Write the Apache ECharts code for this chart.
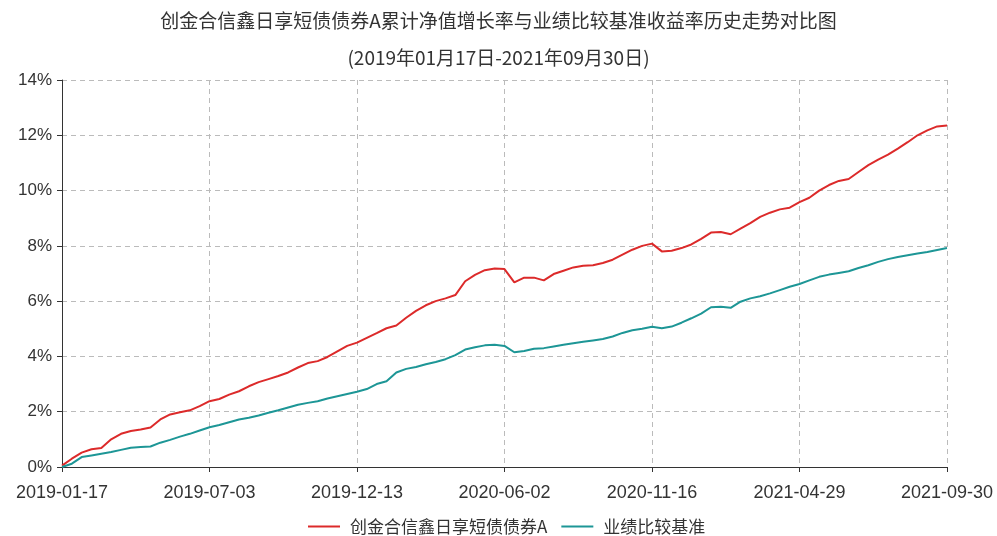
<!DOCTYPE html>
<html>
<head>
<meta charset="utf-8">
<script src="https://cdn.jsdelivr.net/npm/echarts@6/dist/echarts.min.js"></script>
<style>
  html, body { margin: 0; padding: 0; background: #fff; }
  #chart { width: 997px; height: 536px; }
</style>
</head>
<body>
<div id="chart"></div>
<script>
const dates = [
  '2019-01-17', '2019-01-28', '2019-02-08', '2019-02-19', '2019-03-01', '2019-03-12', '2019-03-22', '2019-04-02',
  '2019-04-12', '2019-04-23', '2019-05-06', '2019-05-16', '2019-05-27', '2019-06-06', '2019-06-21',
  '2019-07-03', '2019-07-15', '2019-07-25', '2019-08-05', '2019-08-15', '2019-08-26', '2019-09-05', '2019-09-16',
  '2019-09-26', '2019-10-10', '2019-10-21', '2019-10-31', '2019-11-11', '2019-11-21', '2019-12-03',
  '2019-12-13', '2019-12-24', '2020-01-06', '2020-01-16', '2020-02-05', '2020-02-14', '2020-02-25', '2020-03-06',
  '2020-03-17', '2020-03-27', '2020-04-08', '2020-04-20', '2020-04-30', '2020-05-13', '2020-05-22',
  '2020-06-02', '2020-06-12', '2020-06-23', '2020-07-06', '2020-07-16', '2020-07-27', '2020-08-06', '2020-08-17',
  '2020-08-27', '2020-09-08', '2020-09-18', '2020-09-30', '2020-10-19', '2020-10-28', '2020-11-06',
  '2020-11-16', '2020-11-26', '2020-12-07', '2020-12-17', '2020-12-28', '2021-01-08', '2021-01-19', '2021-01-29',
  '2021-02-09', '2021-02-24', '2021-03-05', '2021-03-16', '2021-03-26', '2021-04-08', '2021-04-19',
  '2021-04-29', '2021-05-12', '2021-05-21', '2021-06-01', '2021-06-10', '2021-06-22', '2021-07-01', '2021-07-12',
  '2021-07-21', '2021-07-30', '2021-08-10', '2021-08-19', '2021-08-30', '2021-09-08', '2021-09-17',
  '2021-09-30'
]

// 创金合信鑫日享短债债券A 累计净值增长率 (%)
const fundValues = [
  0.05, 0.30, 0.52, 0.64, 0.69, 1.00, 1.20, 1.30, 1.36, 1.43, 1.72, 1.90, 1.98, 2.05, 2.20,
  2.38, 2.46, 2.62, 2.74, 2.92, 3.07, 3.18, 3.29, 3.42, 3.60, 3.76, 3.83, 3.98, 4.18, 4.38,
  4.50, 4.67, 4.84, 5.02, 5.12, 5.40, 5.65, 5.85, 6.00, 6.10, 6.22, 6.72, 6.95, 7.12, 7.18,
  7.16, 6.68, 6.85, 6.85, 6.75, 6.98, 7.10, 7.22, 7.28, 7.30, 7.38, 7.50, 7.68, 7.86, 8.00,
  8.08, 7.80, 7.82, 7.92, 8.05, 8.25, 8.48, 8.50, 8.42, 8.62, 8.82, 9.05, 9.20, 9.32, 9.38,
  9.58, 9.74, 10.00, 10.20, 10.35, 10.42, 10.67, 10.92, 11.12, 11.30, 11.52, 11.75, 12.00, 12.18, 12.32,
  12.35
]

// 业绩比较基准收益率 (%)
const benchValues = [
  0.00, 0.12, 0.36, 0.42, 0.48, 0.54, 0.62, 0.70, 0.72, 0.74, 0.88, 0.98, 1.10, 1.20, 1.32,
  1.44, 1.52, 1.62, 1.72, 1.78, 1.86, 1.96, 2.05, 2.15, 2.25, 2.32, 2.38, 2.48, 2.56, 2.64,
  2.72, 2.82, 3.00, 3.10, 3.42, 3.55, 3.62, 3.72, 3.80, 3.90, 4.05, 4.25, 4.33, 4.40, 4.42,
  4.38, 4.15, 4.20, 4.28, 4.30, 4.36, 4.42, 4.48, 4.53, 4.58, 4.63, 4.72, 4.85, 4.95, 5.00,
  5.07, 5.02, 5.08, 5.22, 5.38, 5.55, 5.78, 5.80, 5.76, 5.98, 6.10, 6.18, 6.28, 6.40, 6.52,
  6.62, 6.75, 6.88, 6.96, 7.02, 7.08, 7.20, 7.30, 7.42, 7.52, 7.60, 7.66, 7.72, 7.78, 7.85,
  7.92
]

const seriesNames = ['创金合信鑫日享短债债券A', '业绩比较基准']

const chart = echarts.init(document.getElementById('chart'))
const axisFont = '"Liberation Sans", Arial, sans-serif'
const cjkFont = '"Noto Sans CJK SC", sans-serif'

chart.setOption({
  animation: false,
  color: ['#dc2a2a', '#1d9696'],
  title: [
    {
      text: '创金合信鑫日享短债债券A累计净值增长率与业绩比较基准收益率历史走势对比图',
      left: 'center',
      top: 6,
      textStyle: { fontFamily: cjkFont, fontSize: 19, fontWeight: 'normal', color: '#333' }
    },
    {
      text: '(2019年01月17日-2021年09月30日)',
      left: 'center',
      top: 43,
      textStyle: { fontFamily: cjkFont, fontSize: 19, fontWeight: 'normal', color: '#333' }
    }
  ],
  legend: {
    left: 308,
    top: 518,
    padding: 0,
    icon: 'rect',
    itemWidth: 32,
    itemHeight: 2,
    itemGap: 14,
    textStyle: { fontFamily: cjkFont, fontSize: 17, color: '#333', padding: [0, 0, 0, 5] },
    data: seriesNames
  },
  grid: {
    left: 62,
    right: 50,
    top: 80,
    bottom: 69,
    containLabel: false
  },
  xAxis: {
    type: 'category',
    boundaryGap: false,
    data: dates,
    axisLine: { lineStyle: { color: '#333', width: 1 } },
    axisTick: { show: true, interval: 14, length: 5, lineStyle: { color: '#333' } },
    axisLabel: {
      interval: 14,
      margin: 17,
      fontFamily: axisFont,
      fontSize: 18,
      color: '#333'
    },
    splitLine: {
      show: true,
      interval: 14,
      lineStyle: { type: [5, 4], color: '#bbb' }
    }
  },
  yAxis: {
    type: 'value',
    min: 0,
    max: 14,
    interval: 2,
    axisLine: { show: true, lineStyle: { color: '#333', width: 1 } },
    axisTick: { show: true, length: 5, lineStyle: { color: '#333' } },
    axisLabel: {
      formatter: '{value}%',
      margin: 10,
      fontFamily: axisFont,
      fontSize: 17,
      color: '#333'
    },
    splitLine: {
      lineStyle: { type: [5, 4], color: '#bbb' }
    }
  },
  series: [
    {
      name: seriesNames[0],
      type: 'line',
      symbol: 'none',
      data: fundValues,
      lineStyle: { width: 2 }
    },
    {
      name: seriesNames[1],
      type: 'line',
      symbol: 'none',
      data: benchValues,
      lineStyle: { width: 2 }
    }
  ]
})
</script>
</body>
</html>
